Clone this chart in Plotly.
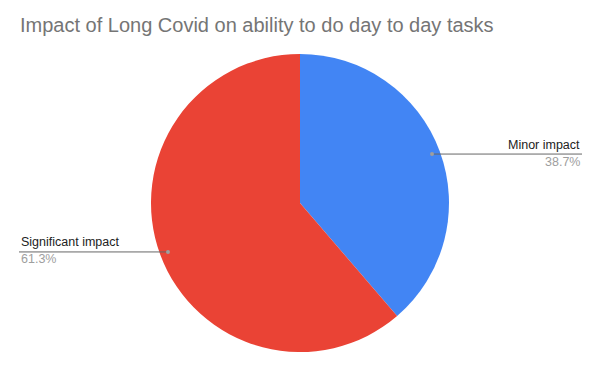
import math
import plotly.graph_objects as go

labels = ["Minor impact", "Significant impact"]
values = [38.7, 61.3]
colors = ["#4285F4", "#EA4335"]
title = "Impact of Long Covid on ability to do day to day tasks"

OFF = 8  # browser body margin
W, H = 600 - OFF, 371 - OFF
T, B = 54 - OFF, 19
PH = H - T - B
R = PH / 2
CX, CY = 300, 203

fig = go.Figure(go.Pie(
    labels=labels, values=values, sort=False, direction="clockwise",
    rotation=0, marker=dict(colors=colors, line=dict(width=0)),
    textinfo="none", hoverinfo="label+percent", showlegend=False,
    domain=dict(x=[0, (2 * (CX - OFF)) / W], y=[0, 1]),
))

def px2paper(x, y):
    return (x - OFF) / W, (H - B - (y - OFF)) / PH

shapes, annots = [], []
total = sum(values)
cum = 0.0
for lab, v in zip(labels, values):
    mid = (cum + v / 2) / total * 2 * math.pi
    cum += v
    dx, dy = math.sin(mid), -math.cos(mid)
    px, py = CX + dx * R * 0.945, CY + dy * R * 0.945
    right = dx > 0
    xend = 582 if right else 19
    x0, y0 = px2paper(px, py)
    x1, _ = px2paper(xend, py)
    shapes.append(dict(type="line", xref="paper", yref="paper", x0=x0, y0=y0, x1=x1, y1=y0,
                       line=dict(color="#666666", width=1)))
    shapes.append(dict(type="circle", xref="paper", yref="paper",
                       x0=x0 - 2 / W, x1=x0 + 2 / W,
                       y0=y0 - 2 / PH, y1=y0 + 2 / PH,
                       fillcolor="#9e9e9e", line=dict(width=0)))
    anchor = "right" if right else "left"
    annots.append(dict(xref="paper", yref="paper", x=x1, y=y0 + 0.5 / PH, text=lab,
                       showarrow=False, xanchor=anchor, yanchor="bottom",
                       font=dict(family="Liberation Sans, Arial", size=12.5, color="#222222")))
    annots.append(dict(xref="paper", yref="paper", x=x1, y=y0 + 1.5 / PH,
                       text=f"{v / total * 100:.1f}%",
                       showarrow=False, xanchor=anchor, yanchor="top",
                       font=dict(family="Liberation Sans, Arial", size=12.5, color="#9e9e9e")))

fig.update_layout(
    width=W, height=H,
    margin=dict(l=0, r=0, t=T, b=B),
    paper_bgcolor="white", plot_bgcolor="white",
    title=dict(text=title, x=(20 - OFF) / W, xanchor="left", xref="container",
               y=1 - (18 - OFF) / H, yanchor="top", yref="container",
               font=dict(family="Liberation Sans, Arial", size=20, color="#757575")),
    shapes=shapes, annotations=annots,
)

fig.write_html("out.html")
